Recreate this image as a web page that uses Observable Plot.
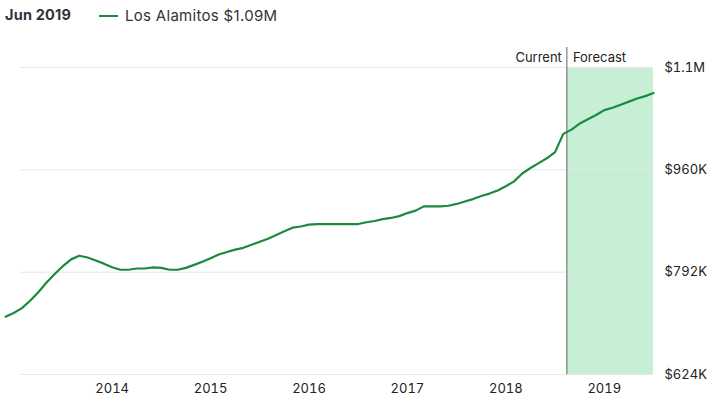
<!DOCTYPE html>
<html><head><meta charset="utf-8">
<script src="https://cdn.jsdelivr.net/npm/d3@7"></script>
<script src="https://cdn.jsdelivr.net/npm/@observablehq/plot@0.6"></script>
<style>
body{margin:0;background:#fff;font-family:Inter,"Open Sans",sans-serif;color:#222;}
#hdr{position:relative;height:30px;width:724px;}
#date{position:absolute;left:5px;top:6px;font-size:14.5px;font-weight:700;color:#333;letter-spacing:0.2px;}
#sw{position:absolute;left:99px;top:15px;width:19px;height:2px;background:#1a8a3e;}
#lab{position:absolute;left:125px;top:6px;font-size:15px;color:#333;letter-spacing:0.3px;}
svg{display:block;}
</style></head><body>
<div id="hdr"><span id="date">Jun 2019</span><span id="sw"></span><span id="lab">Los Alamitos $1.09M</span></div>
<div id="chart"></div>
<script>
// monthly values (thousands of $) starting Dec 2012
const startYear = 2012, startMonth = 12;
const values = [719,725,733,745,759,775,789,802,813,819,816,811,806,
800,796,796,798,798,800,799,796,796,799,804,809,
815,821,825,829,832,837,842,847,853,859,865,867,
870,871,871,871,871,871,871,874,876,879,881,884,
889,893,900,900,900,901,904,908,912,917,921,926,
933,941,954,963,971,979,989,1019,1026,1036,1043,1050,
1058,1062,1067,1072,1077,1081,1086];
const yTicks = [624, 792, 960, 1128];
const yTickLabels = ["$624K", "$792K", "$960K", "$1.1M"];
const xTicks = [2014, 2015, 2016, 2017, 2018, 2019];
const currentDate = 2018.62;
const seriesName = "Los Alamitos";

const data = values.map((v, i) => ({t: startYear + (startMonth - 1) / 12 + i / 12, v}));
const t0 = data[0].t, t1 = data[data.length - 1].t;
const green = "#1a8a3e";

const chart = Plot.plot({
  width: 724, height: 385,
  marginTop: 37, marginBottom: 41, marginLeft: 5, marginRight: 71,
  style: {fontFamily: "Inter, 'Open Sans', sans-serif", fontSize: "13px", color: "#222", background: "#fff"},
  x: {domain: [t0, t1], label: null},
  y: {domain: [yTicks[0], yTicks[yTicks.length - 1]], label: null},
  marks: [
    Plot.rect([{a: currentDate, b: t1}], {x1: "a", x2: "b", y1: yTicks[0], y2: yTicks[yTicks.length - 1], fill: "#c7efd6"}),
    Plot.ruleY(yTicks, {stroke: "#e6e6e6", strokeWidth: 1, insetLeft: 15}),
    Plot.ruleX([currentDate], {stroke: "#666", strokeWidth: 1, insetTop: -20}),
    Plot.text([currentDate], {x: d => d, text: () => "Current", frameAnchor: "top", textAnchor: "end", dx: -5, dy: -15, fill: "#222", fontSize: 13}),
    Plot.text([currentDate], {x: d => d, text: () => "Forecast", frameAnchor: "top", textAnchor: "start", dx: 6, dy: -15, fill: "#222", fontSize: 13}),
    Plot.line(data, {x: "t", y: "v", stroke: green, strokeWidth: 2.2, curve: "linear"}),
    Plot.axisY(yTicks, {anchor: "right", tickSize: 0, tickPadding: 11, tickFormat: (d, i) => yTickLabels[yTicks.indexOf(d)], fontSize: 13, label: null}),
    Plot.axisX(xTicks, {anchor: "bottom", tickSize: 0, tickPadding: 9, tickFormat: d => String(d), fontSize: 13, label: null})
  ]
});
document.getElementById("chart").appendChild(chart);
</script>
</body></html>
